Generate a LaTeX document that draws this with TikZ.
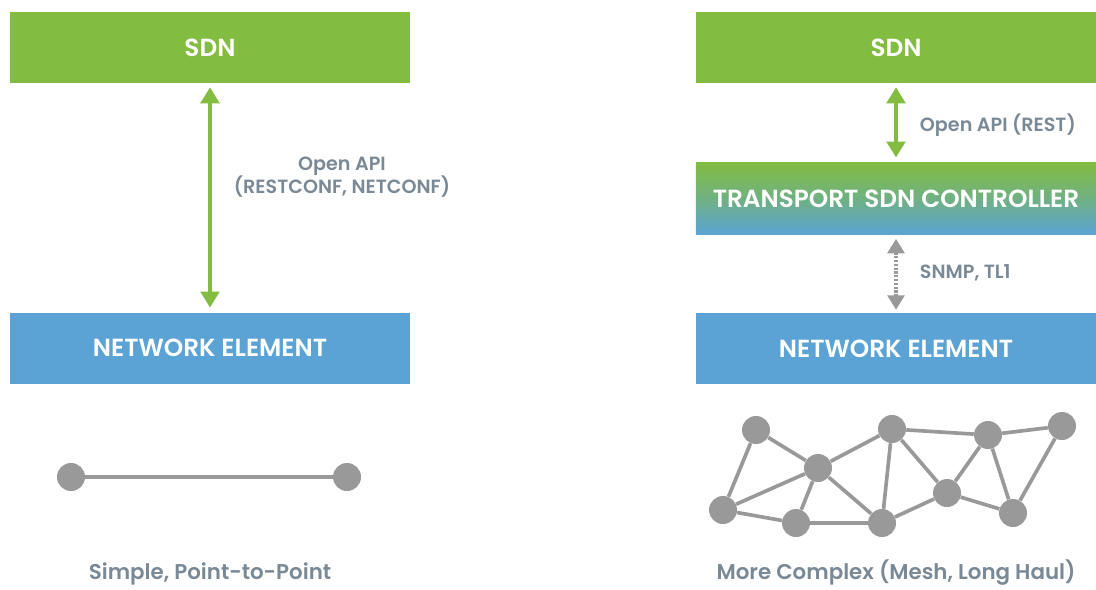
\documentclass[tikz,border=0pt]{standalone}
\usepackage{fontspec}
\setmainfont{Poppins}[BoldFont={Poppins SemiBold}]
\usetikzlibrary{arrows.meta,positioning}

\definecolor{sdngreen}{RGB}{130,188,65}
\definecolor{neblue}{RGB}{90,163,212}
\definecolor{labelgray}{RGB}{122,137,150}
\definecolor{nodegray}{RGB}{153,153,153}

\begin{document}
\begin{tikzpicture}[
  x=0.025cm, y=-0.025cm,
  layer/.style={
     rectangle, inner sep=0pt,
     minimum width=10cm, minimum height=1.775cm,
     text=white, font=\bfseries\fontsize{17.6}{20}\selectfont},
  sdn/.style={layer, fill=sdngreen},
  ne/.style={layer, fill=neblue},
  ctrl/.style={layer, minimum height=1.8cm,
     top color=sdngreen, bottom color=neblue, middle color=sdngreen!55!neblue},
  label/.style={text=labelgray, font=\bfseries\fontsize{13.6}{16.5}\selectfont, align=center},
  caption/.style={text=labelgray, inner sep=0pt, anchor=base,
     font=\bfseries\fontsize{15.2}{18}\selectfont},
  api/.style={{Triangle[length=0.4cm,width=0.46cm]}-{Triangle[length=0.4cm,width=0.46cm]},
     draw=sdngreen, line width=2.8pt, shorten <=0.1cm, shorten >=0.12cm},
  legacy/.style={{Triangle[length=0.36cm,width=0.42cm]}-{Triangle[length=0.36cm,width=0.42cm]},
     draw=nodegray, line width=2.4pt, dash pattern=on 1.6pt off 1.1pt,
     shorten <=0.1cm, shorten >=0.08cm},
  dot/.style={circle, fill=nodegray, inner sep=0pt, minimum size=0.7cm},
  link/.style={draw=nodegray, line width=2.6pt}]
\useasboundingbox (0,0) rectangle (1096,590);

% left column: SDN talks straight to the element
\node[sdn] (sdnL) at (210,47.5) {SDN};
\node[ne,below=5.725cm of sdnL] (neL) {NETWORK ELEMENT};
\draw[api] (sdnL) -- (neL);
\node[label] (apiL) at (342,177) {Open API\\(RESTCONF, NETCONF)};

\node[dot] (p1) at (71,477) {};
\node[dot] (p2) at (347,477) {};
\draw[link] (p1) -- (p2);
\node[caption] (capL) at (210,579) {Simple, Point-to-Point};

% right column: controller in between
\node[sdn] (sdnR) at (896,47.5) {SDN};
\node[ctrl,below=1.975cm of sdnR] (tsc) {TRANSPORT SDN CONTROLLER};
\node[ne,below=1.95cm of tsc] (neR) {NETWORK ELEMENT};
\draw[api] (sdnR) -- (tsc);
\draw[legacy] (tsc) -- (neR);
\node[label,anchor=west] (apiR) at (915,125) {Open API (REST)};
\node[label,anchor=west] (snmp) at (915,273) {SNMP, TL1};

% mesh
\foreach \n/\x/\y in {1/756/430, 2/818/468, 3/892/429, 4/988/435, 5/1062/426,
                      6/723/510, 7/796/523, 8/882/523, 9/947/493, 10/1013/513}
  \node[dot] (m\n) at (\x,\y) {};
\foreach \a/\b in {1/2, 1/6, 2/3, 2/6, 2/7, 2/8, 3/4, 3/8, 3/9, 4/5,
                   4/9, 4/10, 5/10, 6/7, 7/8, 8/9, 9/10}
  \draw[link] (m\a) -- (m\b);
\node[caption] (capR) at (896,579) {More Complex (Mesh, Long Haul)};
\end{tikzpicture}
\end{document}
